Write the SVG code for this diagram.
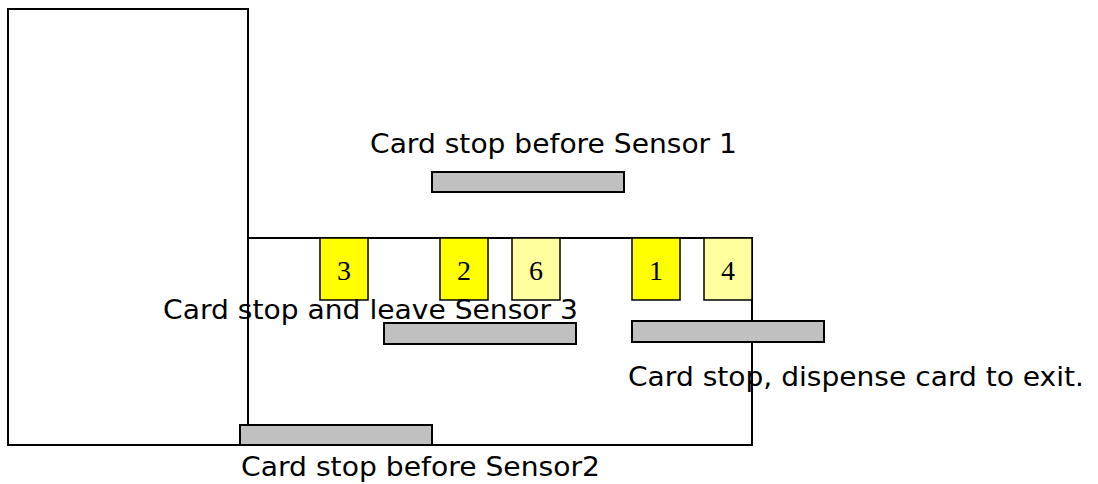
<svg xmlns="http://www.w3.org/2000/svg" width="1098" height="484" viewBox="0 0 1098 484">
<style>
.frame{fill:#fff;stroke:#000;stroke-width:2}
.sy{fill:#ffff00;stroke:#000;stroke-width:1.5}
.sl{fill:#ffffa0;stroke:#000;stroke-width:1.5}
.bar{fill:#c0c0c0;stroke:#000;stroke-width:2}
.lbl{font-family:"DejaVu Sans",sans-serif;font-size:26px;fill:#000}
.num{font-family:"Liberation Serif",serif;font-size:28px;fill:#000;text-anchor:middle}
</style>
<g id="housing">
<rect class="frame" x="8" y="9" width="240" height="436"/>
</g>
<g id="channel">
<rect class="frame" x="248" y="238" width="504" height="207"/>
</g>
<g id="sensor3"><rect class="sy" x="320" y="238" width="48" height="62"/><text class="num" x="344" y="280">3</text></g>
<g id="sensor2"><rect class="sy" x="440" y="238" width="48" height="62"/><text class="num" x="464" y="280">2</text></g>
<g id="sensor6"><rect class="sl" x="512" y="238" width="48" height="62"/><text class="num" x="536" y="280">6</text></g>
<g id="sensor1"><rect class="sy" x="632" y="238" width="48" height="62"/><text class="num" x="656" y="280">1</text></g>
<g id="sensor4"><rect class="sl" x="704" y="238" width="48" height="62"/><text class="num" x="728" y="280">4</text></g>
<g id="stop1"><rect class="bar" x="432" y="172" width="192" height="20"/><text class="lbl" x="370" y="153" textLength="367" lengthAdjust="spacingAndGlyphs">Card stop before Sensor 1</text></g>
<g id="stop3"><rect class="bar" x="384" y="323" width="192" height="21"/><text class="lbl" x="163" y="319" textLength="415" lengthAdjust="spacingAndGlyphs">Card stop and leave Sensor 3</text></g>
<g id="stopExit"><rect class="bar" x="632" y="321" width="192" height="21"/><text class="lbl" x="628" y="386" textLength="456" lengthAdjust="spacingAndGlyphs">Card stop, dispense card to exit.</text></g>
<g id="stop2"><rect class="bar" x="240" y="425" width="192" height="20"/><text class="lbl" x="241" y="476" textLength="359" lengthAdjust="spacingAndGlyphs">Card stop before Sensor2</text></g>
<g id="connectors"></g>
</svg>
